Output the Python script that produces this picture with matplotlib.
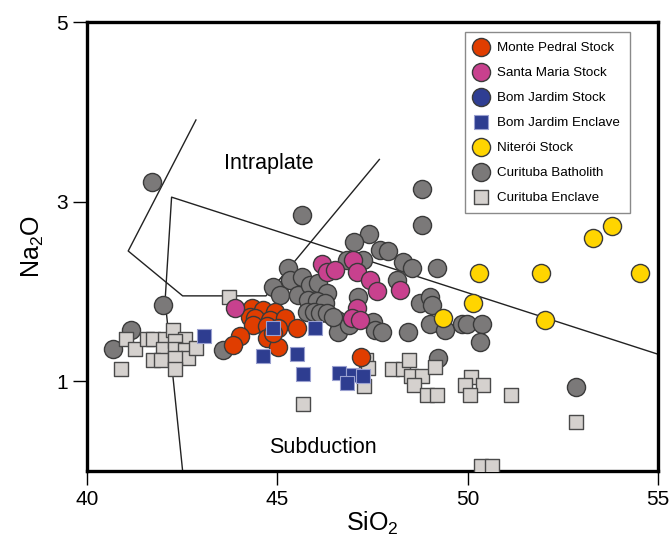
import matplotlib.pyplot as plt

plt.rcParams['font.family'] = ['Liberation Sans', 'DejaVu Sans']
plt.rcParams['mathtext.default'] = 'regular'

# SiO2 vs Na2O (wt%) for each unit
monte_pedral_si = [44.33, 44.63, 44.94, 44.28, 44.41, 44.81, 45.20, 44.36, 44.72, 45.02,
                   45.51, 44.02, 44.72, 43.84, 45.02, 44.89, 47.20]
monte_pedral_na = [1.81, 1.79, 1.77, 1.72, 1.70, 1.68, 1.70, 1.63, 1.61, 1.59,
                   1.59, 1.50, 1.48, 1.40, 1.38, 1.54, 1.27]

santa_maria_si = [43.89, 46.17, 46.30, 46.51, 47.00, 47.08, 47.43, 47.61, 48.22, 47.08, 46.95, 47.17]
santa_maria_na = [1.81, 2.31, 2.22, 2.24, 2.35, 2.22, 2.13, 2.00, 2.02, 1.81, 1.70, 1.68]

bom_jardim_stock_si = []
bom_jardim_stock_na = []

bom_jardim_encl_si = [43.08, 44.88, 46.00, 44.63, 45.51, 45.67, 46.61, 46.99, 47.26, 46.82]
bom_jardim_encl_na = [1.50, 1.59, 1.59, 1.28, 1.30, 1.08, 1.09, 1.07, 1.06, 0.98]

niteroi_si = [50.30, 51.94, 54.53, 53.30, 53.78, 50.13, 52.04, 49.36]
niteroi_na = [2.20, 2.20, 2.20, 2.59, 2.73, 1.87, 1.68, 1.70]

curitiba_bath_si = [42.00, 41.16, 40.68, 43.57, 41.71, 45.64, 48.79, 48.79, 47.42, 47.01,
                    47.70, 47.91, 46.82, 47.26, 48.31, 48.53, 49.19, 45.29, 48.14, 45.33,
                    45.64, 44.89, 45.07, 45.55, 45.86, 46.08, 46.30, 45.81, 46.03, 46.25,
                    45.77, 45.95, 46.12, 46.30, 47.13, 48.75, 49.01, 49.05, 46.56, 46.60,
                    46.89, 47.52, 47.57, 47.74, 48.44, 49.01, 49.40, 49.84, 49.97, 50.37,
                    50.32, 49.22, 52.84, 46.45]
curitiba_bath_na = [1.85, 1.57, 1.36, 1.35, 3.22, 2.85, 3.14, 2.74, 2.64, 2.55,
                    2.46, 2.45, 2.35, 2.35, 2.33, 2.26, 2.26, 2.26, 2.13, 2.13,
                    2.16, 2.05, 1.96, 1.96, 2.07, 2.09, 1.98, 1.90, 1.89, 1.87,
                    1.77, 1.77, 1.76, 1.76, 1.94, 1.87, 1.94, 1.85, 1.68, 1.55,
                    1.63, 1.66, 1.57, 1.55, 1.55, 1.64, 1.57, 1.64, 1.64, 1.64,
                    1.44, 1.26, 0.94, 1.72]

curitiba_encl_si = [41.03, 41.25, 40.89, 41.58, 41.73, 42.04, 42.26, 42.57, 42.00, 42.30,
                    42.30, 42.57, 42.65, 42.87, 41.73, 41.95, 42.30, 42.32, 43.73,
                    47.33, 47.39, 47.28, 48.01, 48.29, 48.46, 48.51, 48.79, 49.13, 48.60,
                    48.93, 49.19, 50.09, 49.92, 50.39, 50.05, 51.15, 45.68, 52.84, 50.36,
                    50.63]
curitiba_encl_na = [1.47, 1.36, 1.14, 1.47, 1.47, 1.47, 1.57, 1.47, 1.36, 1.45,
                    1.36, 1.35, 1.26, 1.37, 1.24, 1.24, 1.26, 1.14, 1.94,
                    1.23, 1.15, 0.95, 1.14, 1.14, 1.23, 1.06, 1.06, 1.16, 0.96,
                    0.85, 0.85, 1.05, 0.96, 0.96, 0.85, 0.85, 0.74, 0.55, 0.05,
                    0.05]

# tectonic discrimination boundaries
intraplate_si = [42.86, 41.08, 42.51, 44.70, 47.68]
intraplate_na = [3.91, 2.45, 1.95, 1.95, 3.47]
subduction_si = [42.51, 42.05, 42.22, 55.0]
subduction_na = [0.0, 1.90, 3.05, 1.30]

fig = plt.figure(figsize=(6.7, 5.4), dpi=100)
ax = fig.add_axes([0.130, 0.128, 0.852, 0.831])

ax.plot(intraplate_si, intraplate_na, color='#222222', lw=1.0, zorder=1)
ax.plot(subduction_si, subduction_na, color='#222222', lw=1.0, zorder=1)

edge = '#3a3a3a'
h_cb = ax.scatter(curitiba_bath_si, curitiba_bath_na, s=170, marker='o', c='#7b7979',
                  edgecolors=edge, linewidths=1.0, zorder=2, label='Curituba Batholith')
h_ce = ax.scatter(curitiba_encl_si, curitiba_encl_na, s=105, marker='s', c='#d5d1ce',
                  edgecolors='#4a4a4a', linewidths=1.0, zorder=3, label='Curituba Enclave')
h_mp = ax.scatter(monte_pedral_si, monte_pedral_na, s=170, marker='o', c='#e03d00',
                  edgecolors=edge, linewidths=1.0, zorder=4, label='Monte Pedral Stock')
h_sm = ax.scatter(santa_maria_si, santa_maria_na, s=170, marker='o', c='#c8418e',
                  edgecolors=edge, linewidths=1.0, zorder=5, label='Santa Maria Stock')
h_bs = ax.scatter(bom_jardim_stock_si, bom_jardim_stock_na, s=170, marker='o', c='#2f3e93',
                  edgecolors=edge, linewidths=1.0, zorder=6, label='Bom Jardim Stock')
h_be = ax.scatter(bom_jardim_encl_si, bom_jardim_encl_na, s=110, marker='s', c='#2e3d90',
                  edgecolors='#9aa0d0', linewidths=0.8, zorder=6, label='Bom Jardim Enclave')
h_ni = ax.scatter(niteroi_si, niteroi_na, s=170, marker='o', c='#ffd500',
                  edgecolors=edge, linewidths=1.0, zorder=7, label='Niterói Stock')

ax.text(44.77, 3.42, 'Intraplate', fontsize=15.5, ha='center', va='center')
ax.text(46.2, 0.26, 'Subduction', fontsize=15.5, ha='center', va='center')

ax.set_xlim(40, 55)
ax.set_ylim(0, 5)
ax.set_xticks([40, 45, 50, 55])
ax.set_yticks([1, 3, 5])
ax.tick_params(direction='out', length=10, width=1.0, labelsize=15, pad=4)
for sp in ax.spines.values():
    sp.set_linewidth(2.4)

ax.set_xlabel('SiO$_2$', fontsize=18, labelpad=0)
ax.set_ylabel('Na$_2$O', fontsize=18, labelpad=7)

leg = ax.legend(handles=[h_mp, h_sm, h_bs, h_be, h_ni, h_cb, h_ce],
                loc='upper right', bbox_to_anchor=(0.962, 0.993), fontsize=9.6,
                frameon=True, fancybox=False, edgecolor='#8a8a8a', framealpha=1,
                labelspacing=0.95, handlelength=1.0, handletextpad=0.7,
                borderpad=0.7, scatterpoints=1)
leg.get_frame().set_linewidth(1.0)

plt.savefig('out.png', dpi=100)
